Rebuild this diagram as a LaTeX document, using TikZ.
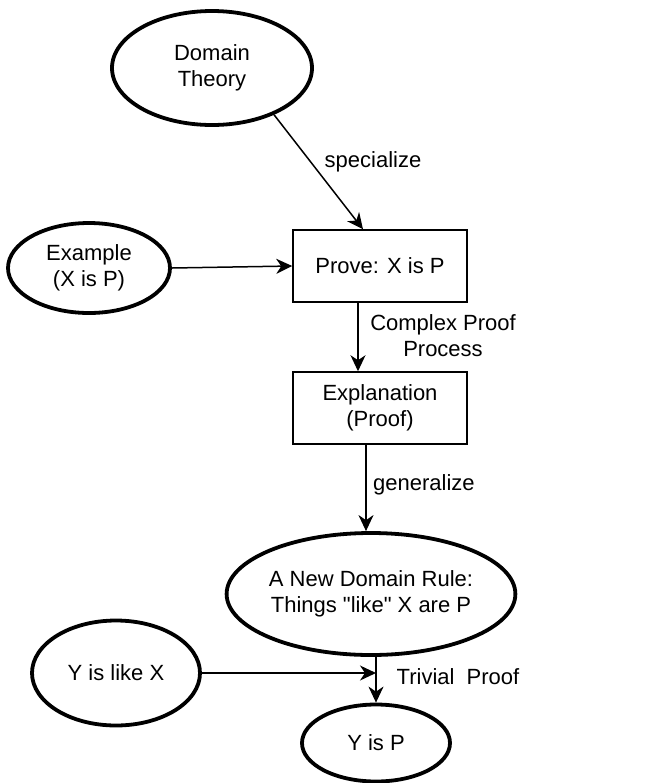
\documentclass[tikz,border=0pt]{standalone}
\usepackage{fontspec}
\setmainfont{Liberation Sans}[Ligatures=TeXOff]
\usetikzlibrary{arrows.meta,shapes.geometric}

\begin{document}
\begin{tikzpicture}[x=0.5pt,y=-0.5pt,
    font=\fontsize{11}{13}\selectfont,
    idea/.style={ellipse,draw,line width=1.9pt,inner sep=0pt,align=center},
    stage/.style={rectangle,draw,line width=.75pt,inner sep=0pt,align=center,
      minimum width=87pt,minimum height=36pt},
    flow/.style={draw,line width=.75pt,-{Stealth[length=8pt,width=7.5pt,inset=2.5pt]}},
    note/.style={align=center}]
    \useasboundingbox (0,0) rectangle (655,783);
    \node[idea,minimum width=100pt,minimum height=57pt] (domain) at (212,68) {Domain\\Theory};
    \node[idea,minimum width=81pt,minimum height=45pt] (example) at (89,268) {Example\\(X is P)};
    \node[stage] (prove) at (380,266) {Prove: X is P};
    \node[stage] (expl) at (380,408) {Explanation\\(Proof)};
    \node[idea,minimum width=130pt,minimum height=61pt] (rule) at (371,594) {A New Domain Rule:\\Things "like" X are P};
    \node[idea,minimum width=84pt,minimum height=52.5pt] (ylike) at (116,673) {Y is like X};
    \node[idea,minimum width=74pt,minimum height=38.5pt] (yisp) at (376,743) {Y is P};
    \coordinate (join) at (yisp.north |- ylike.east);
    \draw[flow] (domain.-37) -- ([xshift=-8.5pt]prove.north);
    \draw[flow] (example.east) -- (prove.west);
    \draw[flow] ([xshift=-11pt]prove.south) -- ([xshift=-11pt]expl.north);
    \draw[flow] ([xshift=-7pt]expl.south) -- ([xshift=-7pt]expl.south |- rule.north);
    \draw[flow] (rule.south -| yisp.north) -- (yisp.north);
    \draw[flow] (ylike.east) -- (join);
    \node[note] (lspec) at (373,162) {specialize};
    \node[note] (lcomplex) at (443,336) {Complex Proof\\Process};
    \node[note] (lgen) at (424,485) {generalize};
    \node[note] (ltrivial) at (458,677) {Trivial\ \ Proof};
\end{tikzpicture}
\end{document}
